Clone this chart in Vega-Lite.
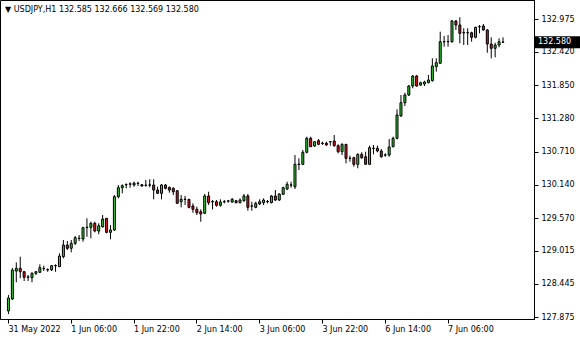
{
  "$schema": "https://vega.github.io/schema/vega-lite/v6.json",
  "width": 534,
  "height": 319,
  "autosize": "none",
  "padding": {"left": 0, "top": 0, "right": 46, "bottom": 21},
  "background": "white",
  "title": {"text": "▼ USDJPY,H1  132.585 132.666 132.569 132.580", "anchor": "start", "frame": "group", "offset": -18, "dx": 5, "baseline": "middle", "font": "DejaVu Sans", "fontSize": 8, "fontWeight": "normal", "color": "black"},
  "config": {
    "view": {"stroke": "black", "strokeWidth": 1},
    "font": "DejaVu Sans",
    "axis": {"labelOverlap": false, "labelFlush": false, "labelBound": false, "grid": false, "labelFont": "DejaVu Sans", "labelFontSize": 8, "labelColor": "black", "tickColor": "black", "tickSize": 4, "domainColor": "black", "title": null},
    "axisY": {"labelOverlap": false},
    "axisRight": {"labelOverlap": false},
    "axisQuantitative": {"labelOverlap": false}
  },
  "datasets": {
    "bars": [
      {"i":0,"o":127.983,"h":128.256,"l":127.931,"c":128.205},
      {"i":1,"o":128.188,"h":128.719,"l":128.171,"c":128.684},
      {"i":2,"o":128.667,"h":128.816,"l":128.474,"c":128.713},
      {"i":3,"o":128.713,"h":128.912,"l":128.542,"c":128.655},
      {"i":4,"o":128.655,"h":128.668,"l":128.496,"c":128.559},
      {"i":5,"o":128.559,"h":128.599,"l":128.496,"c":128.565},
      {"i":6,"o":128.552,"h":128.645,"l":128.474,"c":128.628},
      {"i":7,"o":128.628,"h":128.667,"l":128.599,"c":128.655},
      {"i":8,"o":128.645,"h":128.782,"l":128.641,"c":128.724},
      {"i":9,"o":128.707,"h":128.758,"l":128.667,"c":128.712},
      {"i":10,"o":128.692,"h":128.713,"l":128.655,"c":128.686},
      {"i":11,"o":128.689,"h":128.770,"l":128.667,"c":128.758},
      {"i":12,"o":128.755,"h":128.782,"l":128.655,"c":128.761},
      {"i":13,"o":128.741,"h":128.970,"l":128.736,"c":128.924},
      {"i":14,"o":128.912,"h":129.198,"l":128.885,"c":129.112},
      {"i":15,"o":129.112,"h":129.181,"l":129.027,"c":129.056},
      {"i":16,"o":129.056,"h":129.198,"l":128.987,"c":129.141},
      {"i":17,"o":129.141,"h":129.266,"l":129.112,"c":129.237},
      {"i":18,"o":129.229,"h":129.283,"l":129.181,"c":129.224},
      {"i":19,"o":129.215,"h":129.425,"l":129.169,"c":129.408},
      {"i":20,"o":129.410,"h":129.569,"l":129.254,"c":129.417},
      {"i":21,"o":129.415,"h":129.511,"l":129.227,"c":129.483},
      {"i":22,"o":129.483,"h":129.511,"l":129.329,"c":129.352},
      {"i":23,"o":129.352,"h":129.483,"l":129.295,"c":129.442},
      {"i":24,"o":129.425,"h":129.626,"l":129.408,"c":129.557},
      {"i":25,"o":129.569,"h":129.574,"l":129.312,"c":129.329},
      {"i":26,"o":129.329,"h":129.454,"l":129.210,"c":129.369},
      {"i":27,"o":129.369,"h":129.968,"l":129.352,"c":129.939},
      {"i":28,"o":129.939,"h":130.139,"l":129.911,"c":130.093},
      {"i":29,"o":130.093,"h":130.151,"l":129.997,"c":130.127},
      {"i":30,"o":130.142,"h":130.168,"l":130.082,"c":130.146},
      {"i":31,"o":130.153,"h":130.185,"l":130.093,"c":130.158},
      {"i":32,"o":130.139,"h":130.195,"l":130.110,"c":130.173},
      {"i":33,"o":130.165,"h":130.195,"l":130.122,"c":130.170},
      {"i":34,"o":130.144,"h":130.151,"l":130.110,"c":130.122},
      {"i":35,"o":130.132,"h":130.225,"l":130.110,"c":130.136},
      {"i":36,"o":130.141,"h":130.237,"l":130.100,"c":130.137},
      {"i":37,"o":130.139,"h":130.237,"l":129.894,"c":130.053},
      {"i":38,"o":130.053,"h":130.110,"l":129.985,"c":129.997},
      {"i":39,"o":129.997,"h":130.156,"l":129.894,"c":130.139},
      {"i":40,"o":130.139,"h":130.156,"l":130.065,"c":130.082},
      {"i":41,"o":130.100,"h":130.110,"l":130.007,"c":130.053},
      {"i":42,"o":130.082,"h":130.100,"l":129.968,"c":130.024},
      {"i":43,"o":130.041,"h":130.053,"l":129.820,"c":129.826},
      {"i":44,"o":129.853,"h":129.968,"l":129.757,"c":129.894},
      {"i":45,"o":129.892,"h":129.951,"l":129.797,"c":129.896},
      {"i":46,"o":129.894,"h":129.896,"l":129.740,"c":129.757},
      {"i":47,"o":129.780,"h":129.826,"l":129.665,"c":129.723},
      {"i":48,"o":129.723,"h":129.768,"l":129.626,"c":129.665},
      {"i":49,"o":129.682,"h":129.723,"l":129.511,"c":129.643},
      {"i":50,"o":129.655,"h":129.985,"l":129.643,"c":129.951},
      {"i":51,"o":129.951,"h":130.024,"l":129.797,"c":129.836},
      {"i":52,"o":129.850,"h":129.882,"l":129.723,"c":129.855},
      {"i":53,"o":129.853,"h":129.882,"l":129.768,"c":129.792},
      {"i":54,"o":129.792,"h":129.894,"l":129.768,"c":129.848},
      {"i":55,"o":129.851,"h":129.882,"l":129.826,"c":129.855},
      {"i":56,"o":129.863,"h":129.882,"l":129.836,"c":129.867},
      {"i":57,"o":129.848,"h":129.916,"l":129.836,"c":129.894},
      {"i":58,"o":129.870,"h":129.882,"l":129.826,"c":129.836},
      {"i":59,"o":129.836,"h":129.911,"l":129.826,"c":129.882},
      {"i":60,"o":129.870,"h":129.985,"l":129.853,"c":129.951},
      {"i":61,"o":129.951,"h":129.985,"l":129.699,"c":129.757},
      {"i":62,"o":129.778,"h":129.853,"l":129.699,"c":129.782},
      {"i":63,"o":129.757,"h":129.853,"l":129.740,"c":129.826},
      {"i":64,"o":129.814,"h":129.894,"l":129.797,"c":129.853},
      {"i":65,"o":129.836,"h":129.911,"l":129.797,"c":129.882},
      {"i":66,"o":129.850,"h":129.882,"l":129.826,"c":129.856},
      {"i":67,"o":129.836,"h":129.968,"l":129.826,"c":129.951},
      {"i":68,"o":129.951,"h":130.053,"l":129.865,"c":129.882},
      {"i":69,"o":129.882,"h":129.997,"l":129.865,"c":129.985},
      {"i":70,"o":129.980,"h":130.110,"l":129.968,"c":130.093},
      {"i":71,"o":130.070,"h":130.195,"l":130.053,"c":130.151},
      {"i":72,"o":130.137,"h":130.195,"l":130.093,"c":130.141},
      {"i":73,"o":130.110,"h":130.652,"l":130.070,"c":130.493},
      {"i":74,"o":130.490,"h":130.596,"l":130.396,"c":130.496},
      {"i":75,"o":130.493,"h":130.738,"l":130.481,"c":130.699},
      {"i":76,"o":130.699,"h":130.966,"l":130.681,"c":130.938},
      {"i":77,"o":130.938,"h":130.966,"l":130.790,"c":130.794},
      {"i":78,"o":130.806,"h":130.892,"l":130.794,"c":130.880},
      {"i":79,"o":130.897,"h":130.926,"l":130.824,"c":130.835},
      {"i":80,"o":130.850,"h":130.880,"l":130.824,"c":130.856},
      {"i":81,"o":130.853,"h":130.880,"l":130.812,"c":130.824},
      {"i":82,"o":130.878,"h":130.892,"l":130.812,"c":130.882},
      {"i":83,"o":130.892,"h":130.995,"l":130.794,"c":130.812},
      {"i":84,"o":130.812,"h":130.835,"l":130.681,"c":130.709},
      {"i":85,"o":130.709,"h":130.853,"l":130.652,"c":130.835},
      {"i":86,"o":130.835,"h":130.838,"l":130.510,"c":130.596},
      {"i":87,"o":130.594,"h":130.640,"l":130.538,"c":130.598},
      {"i":88,"o":130.606,"h":130.623,"l":130.452,"c":130.493},
      {"i":89,"o":130.493,"h":130.681,"l":130.425,"c":130.664},
      {"i":90,"o":130.664,"h":130.699,"l":130.584,"c":130.606},
      {"i":91,"o":130.623,"h":130.709,"l":130.490,"c":130.493},
      {"i":92,"o":130.493,"h":130.812,"l":130.481,"c":130.777},
      {"i":93,"o":130.765,"h":130.824,"l":130.664,"c":130.769},
      {"i":94,"o":130.767,"h":130.812,"l":130.699,"c":130.721},
      {"i":95,"o":130.721,"h":130.755,"l":130.606,"c":130.623},
      {"i":96,"o":130.650,"h":130.681,"l":130.623,"c":130.654},
      {"i":97,"o":130.652,"h":130.926,"l":130.623,"c":130.789},
      {"i":98,"o":130.794,"h":130.966,"l":130.784,"c":130.938},
      {"i":99,"o":130.938,"h":131.434,"l":130.921,"c":131.337},
      {"i":100,"o":131.320,"h":131.679,"l":131.308,"c":131.547},
      {"i":101,"o":131.547,"h":131.719,"l":131.491,"c":131.679},
      {"i":102,"o":131.679,"h":131.850,"l":131.662,"c":131.833},
      {"i":103,"o":131.833,"h":132.021,"l":131.794,"c":132.004},
      {"i":104,"o":132.004,"h":132.021,"l":131.821,"c":131.833},
      {"i":105,"o":131.850,"h":131.907,"l":131.833,"c":131.890},
      {"i":106,"o":131.867,"h":131.924,"l":131.833,"c":131.902},
      {"i":107,"o":131.890,"h":132.021,"l":131.879,"c":131.936},
      {"i":108,"o":131.924,"h":132.307,"l":131.907,"c":132.176},
      {"i":109,"o":132.164,"h":132.307,"l":132.078,"c":132.232},
      {"i":110,"o":132.222,"h":132.763,"l":132.210,"c":132.591},
      {"i":111,"o":132.589,"h":132.689,"l":132.506,"c":132.593},
      {"i":112,"o":132.591,"h":132.706,"l":132.506,"c":132.596},
      {"i":113,"o":132.591,"h":132.963,"l":132.574,"c":132.946},
      {"i":114,"o":132.946,"h":132.963,"l":132.792,"c":132.877},
      {"i":115,"o":132.877,"h":133.009,"l":132.564,"c":132.735},
      {"i":116,"o":132.743,"h":132.821,"l":132.535,"c":132.747},
      {"i":117,"o":132.747,"h":132.821,"l":132.535,"c":132.744},
      {"i":118,"o":132.745,"h":132.763,"l":132.591,"c":132.667},
      {"i":119,"o":132.667,"h":132.848,"l":132.650,"c":132.838},
      {"i":120,"o":132.846,"h":132.877,"l":132.735,"c":132.850},
      {"i":121,"o":132.860,"h":132.894,"l":132.780,"c":132.792},
      {"i":122,"o":132.792,"h":132.804,"l":132.403,"c":132.552},
      {"i":123,"o":132.552,"h":132.667,"l":132.307,"c":132.478},
      {"i":124,"o":132.478,"h":132.574,"l":132.324,"c":132.535},
      {"i":125,"o":132.535,"h":132.650,"l":132.496,"c":132.591},
      {"i":126,"o":132.585,"h":132.666,"l":132.569,"c":132.580}
    ],
    "last": [{"price": 132.58, "label": "132.580"}]
  },
  "layer": [
    {
      "data": {"name": "bars"},
      "mark": {"type": "rule", "color": "black", "strokeWidth": 1, "xOffset": 0.5},
      "encoding": {
        "x": {"field": "i", "type": "quantitative",
          "scale": {"domain": [-0.75, 132.75], "nice": false, "zero": false},
          "axis": {"values": [0, 16, 32, 48, 64, 80, 96, 112],
            "labelExpr": "['31 May 2022','1 Jun 06:00','1 Jun 22:00','2 Jun 14:00','3 Jun 06:00','3 Jun 22:00','6 Jun 14:00','7 Jun 06:00'][round(datum.value/16)]",
            "labelAlign": "left", "labelPadding": 2, "labelOverlap": false}},
        "y": {"field": "l", "type": "quantitative",
          "scale": {"domain": [127.846, 133.305], "nice": false, "zero": false},
          "axis": {"orient": "right",
            "values": [127.875, 128.445, 129.015, 129.570, 130.140, 130.710, 131.280, 131.850, 132.420, 132.975],
            "labelExpr": "format(datum.value, '.3f')", "labelPadding": 3, "labelOverlap": false, "tickCount": 10}},
        "y2": {"field": "h"}
      }
    },
    {
      "data": {"name": "bars"},
      "mark": {"type": "bar", "width": 2, "stroke": "black", "strokeWidth": 1, "xOffset": 0.5},
      "encoding": {
        "x": {"field": "i", "type": "quantitative"},
        "y": {"field": "o", "type": "quantitative"},
        "y2": {"field": "c"},
        "fill": {"condition": {"test": "datum.c > datum.o", "value": "#32cd32"}, "value": "#e0141e"}
      }
    },
    {
      "data": {"name": "last"},
      "mark": {"type": "rect", "color": "black", "yOffset": -6, "y2Offset": 6},
      "encoding": {
        "x": {"value": 534},
        "x2": {"value": 580},
        "y": {"field": "price", "type": "quantitative"},
        "y2": {"field": "price"}
      }
    },
    {
      "data": {"name": "last"},
      "mark": {"type": "text", "color": "white", "align": "left", "baseline": "middle", "font": "DejaVu Sans", "fontSize": 8},
      "encoding": {
        "x": {"value": 538},
        "y": {"field": "price", "type": "quantitative"},
        "text": {"field": "label"}
      }
    }
  ]
}
